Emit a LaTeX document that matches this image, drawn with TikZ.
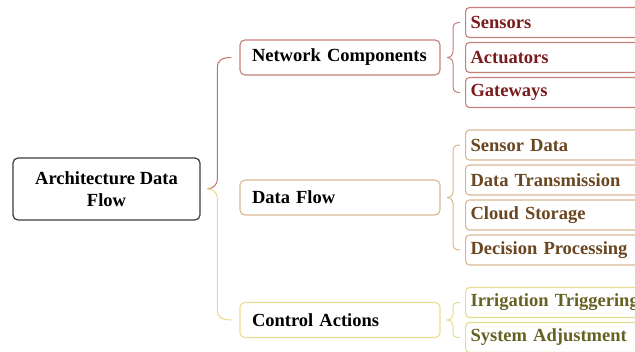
\documentclass[tikz,border=0pt]{standalone}
\usepackage{fontspec}
\setmainfont{Liberation Serif}
\usetikzlibrary{calc}
\definecolor{redB}{HTML}{C77F7C}
\definecolor{redT}{HTML}{7A1C1E}
\definecolor{tanB}{HTML}{D9B792}
\definecolor{tanT}{HTML}{6A4621}
\definecolor{yelB}{HTML}{E8DC92}
\definecolor{yelT}{HTML}{666223}
\definecolor{rootB}{HTML}{3C3C3C}
\definecolor{bigR}{HTML}{C2716D}
\definecolor{bigY}{HTML}{EBDB84}
\newcommand\curlybrace[7]{% #1 top end, #2 bottom end, #3 upper style, #4 lower style, #5 vertical offset, #6 tip offset, #7 curve length
  \draw[#3] let \p1=(#1), \p2=(#2), \n1={(\y1+\y2)/2} in
    (\x1,\y1) .. controls ({\x1-0.7*#5},\y1) and ({\x1-#5},{\y1-0.3*#7}) .. ({\x1-#5},{\y1-#7})
    -- ({\x1-#5},{\n1+#7}) .. controls ({\x1-#5},{\n1+0.45*#7}) and ({\x1-#5-0.4*(#6-#5)},\n1) .. ({\x1-#6},\n1);
  \draw[#4] let \p1=(#1), \p2=(#2), \n1={(\y1+\y2)/2} in
    ({\x2-#6},\n1) .. controls ({\x2-#5-0.4*(#6-#5)},\n1) and ({\x2-#5},{\n1-0.45*#7}) .. ({\x2-#5},{\n1-#7})
    -- ({\x2-#5},{\y2+#7}) .. controls ({\x2-#5},{\y2+0.3*#7}) and ({\x2-0.7*#5},\y2) .. (\x2,\y2);
}
\tikzset{
  every node/.style={font=\fontsize{18.5}{22}\selectfont\bfseries},
  rootbox/.style={draw=rootB, line width=1.2pt, rounded corners=5pt, minimum width=187pt, minimum height=62pt, align=center, inner sep=0pt},
  midbox/.style={line width=1.1pt, rounded corners=5pt, text width=176pt, inner xsep=12pt, minimum height=35pt, align=left},
  leafbox/.style={line width=1.1pt, rounded corners=4pt, text width=185pt, inner xsep=5pt, inner ysep=0pt, minimum height=30pt, align=left, anchor=west},
  redleaf/.style={leafbox, draw=redB, text=redT},
  tanleaf/.style={leafbox, draw=tanB, text=tanT},
  yelleaf/.style={leafbox, draw=yelB, text=yelT},
  bracelw/.style={line width=1pt},
}
\begin{document}
\begin{tikzpicture}[x=1pt,y=-1pt]
\useasboundingbox (0,0) rectangle (635,351);
\fill[white] (0,0) rectangle (635,351);
\clip (0,0) rectangle (635,351);

\node[rootbox] (root) at (106.5,189) {Architecture Data\\Flow};

\node[midbox, draw=redB] (nc) at (340,57.5) {Network Components};
\node[midbox, draw=tanB] (df) at (340,197.5) {Data Flow};
\node[midbox, draw=yelB] (ca) at (340,320) {Control Actions};

\node[redleaf] (s1) at (465,22.5) {Sensors};
\node[redleaf] (s2) at (465,57.5) {Actuators};
\node[redleaf] (s3) at (465,92.5) {Gateways};

\node[tanleaf] (d1) at (465,145) {Sensor Data};
\node[tanleaf] (d2) at (465,180) {Data Transmission};
\node[tanleaf] (d3) at (465,215) {Cloud Storage};
\node[tanleaf] (d4) at (465,250) {Decision Processing};

\node[yelleaf] (c1) at (465,302.5) {Irrigation Triggering};
\node[yelleaf] (c2) at (465,337.5) {System Adjustment};

% big brace
\coordinate (bbt) at ([xshift=-8pt]nc.west);
\coordinate (bbb) at ([xshift=-8pt]ca.west);
\curlybrace{bbt}{bbb}{bracelw, bigR}{bracelw, bigY}{14pt}{24pt}{10pt}

% small braces
\coordinate (nct) at ([xshift=-5pt]s1.west);
\coordinate (ncb) at ([xshift=-5pt]s3.west);
\curlybrace{nct}{ncb}{bracelw, redB}{bracelw, redB}{7pt}{13pt}{6pt}

\coordinate (dft) at ([xshift=-5pt]d1.west);
\coordinate (dfb) at ([xshift=-5pt]d4.west);
\curlybrace{dft}{dfb}{bracelw, tanB}{bracelw, tanB}{7pt}{13pt}{6pt}

\coordinate (cat) at ([xshift=-5pt]c1.west);
\coordinate (cab) at ([xshift=-5pt]c2.west);
\curlybrace{cat}{cab}{bracelw, yelB}{bracelw, yelB}{7pt}{13pt}{5pt}
\end{tikzpicture}
\end{document}
